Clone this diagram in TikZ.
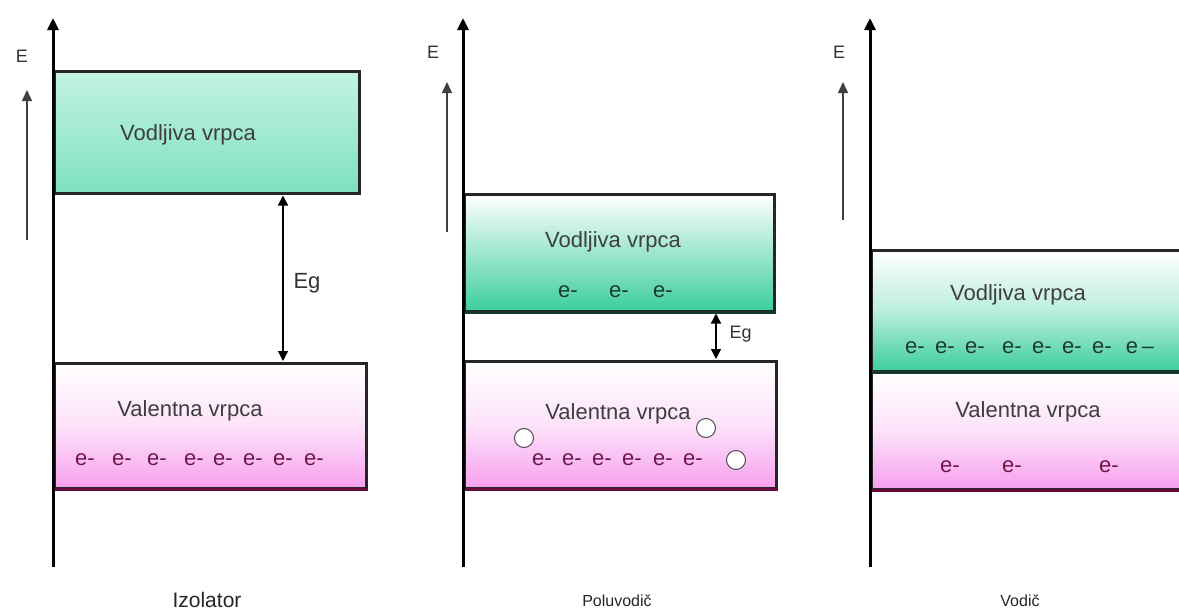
\documentclass[tikz,border=0pt]{standalone}
\usepackage{fontspec}
\setmainfont{Liberation Sans}
\usepackage{xcolor}
\usetikzlibrary{positioning,calc,arrows.meta}

\definecolor{cbtopone}{RGB}{196,244,226}
\definecolor{cbbotone}{RGB}{126,224,188}
\definecolor{cbgreen}{RGB}{60,206,156}
\definecolor{vbpink}{RGB}{247,160,238}
\definecolor{labelgray}{RGB}{62,62,62}
\definecolor{egreen}{RGB}{28,58,48}
\definecolor{epurple}{RGB}{112,22,72}
\definecolor{cbline}{RGB}{22,58,42}
\definecolor{vbline}{RGB}{100,12,62}

\tikzset{
  axis/.style={line width=3pt, -{Triangle[length=12pt,width=11pt]}},
  hint/.style={line width=1.4pt, black!75, -{Triangle[length=11pt,width=10pt]}},
  gap/.style={line width=1.4pt, {Triangle[length=10pt,width=10pt]}-{Triangle[length=10pt,width=10pt]}},
  band/.style={draw=black!85, line width=2.5pt, anchor=north west, inner sep=0pt},
  cband/.style={band, top color=white, bottom color=cbgreen},
  vband/.style={band, top color=white, bottom color=vbpink, middle color=vbpink!30!white},
  bandtext/.style={text=labelgray, font=\fontsize{22}{26}\selectfont},
  elc/.style={text=egreen, font=\fontsize{22}{26}\selectfont, inner sep=0pt},
  elv/.style={text=epurple, font=\fontsize{22}{26}\selectfont, inner sep=0pt},
  hole/.style={circle, draw=black!70, line width=1pt, fill=white, minimum width=17pt, minimum height=19pt, inner sep=0pt},
  elabel/.style={text=black!80, font=\fontsize{18}{21}\selectfont},
  caption/.style={text=black!85, font=\fontsize{16}{20}\selectfont},
}

\begin{document}
\begin{tikzpicture}[x=1pt,y=-1pt]
    \useasboundingbox[fill=white] (0,0) rectangle (1179,613);

    % Izolator
    \node[vband, minimum width=312pt, minimum height=125pt] (vb1) at (53,362) {};
    \node[band, top color=cbtopone, bottom color=cbbotone, minimum width=305pt, minimum height=122pt] (cb1) at (53,70) {};
    \draw[vbline, line width=2.5pt] (vb1.south west) -- (vb1.south east);
    \coordinate (o1) at (53,567);
    \coordinate (t1) at (53,18);
    \draw[axis] (o1) -- (t1);
    \coordinate (h1) at (27,240);
    \coordinate (k1) at (27,90);
    \draw[hint] (h1) -- (k1);
    \node[elabel] (E1) at (22,56) {E};
    \draw[gap] ($(cb1.south west)+(230,1)$) -- ($(vb1.north west)+(230,-1)$);
    \node[elabel, anchor=west, font=\fontsize{22}{26}\selectfont] (g1) at (290,283) {Eg};
    \node[bandtext] (cbl1) at (188,135) {Vodljiva vrpca};
    \node[bandtext] (vbl1) at (190,411) {Valentna vrpca};
    \foreach \x [count=\i] in {85,122,157,194,223,253,283,314}
        \node[elv] (ev1-\i) at (\x,460) {e-};
    \node[caption, font=\fontsize{21}{24}\selectfont, inner sep=0pt] (cap1) at (207,600) {Izolator};

    % Poluvodic
    \node[vband, minimum width=312pt, minimum height=127pt] (vb2) at (463,360) {};
    \node[cband, minimum width=310pt, minimum height=117pt] (cb2) at (463,193) {};
    \draw[cbline, line width=2.5pt] (cb2.south west) -- (cb2.south east);
    \draw[vbline, line width=2.5pt] (vb2.south west) -- (vb2.south east);
    \coordinate (o2) at (463,567);
    \coordinate (t2) at (463,18);
    \draw[axis] (o2) -- (t2);
    \coordinate (h2) at (447,232);
    \coordinate (k2) at (447,82);
    \draw[hint] (h2) -- (k2);
    \node[elabel] (E2) at (433,52) {E};
    \draw[gap] ($(cb2.south west)+(253,1)$) -- ($(vb2.north west)+(253,-1)$);
    \node[elabel, anchor=west] (g2) at (726,334) {Eg};
    \node[bandtext] (cbl2) at (613,242) {Vodljiva vrpca};
    \node[bandtext] (vbl2) at (618,414) {Valentna vrpca};
    \foreach \x [count=\i] in {568,619,663}
        \node[elc] (ec2-\i) at (\x,292) {e-};
    \foreach \x [count=\i] in {542,572,602,632,663,693}
        \node[elv] (ev2-\i) at (\x,460) {e-};
    \node[hole] (p1) at (524,438) {};
    \node[hole] (p2) at (706,428) {};
    \node[hole] (p3) at (736,460) {};
    \node[caption] (cap2) at (617,601) {Poluvodič};

    % Vodic
    \node[vband, minimum width=330pt, minimum height=118pt] (vb3) at (870,370) {};
    \node[cband, middle color=cbgreen!35!white, minimum width=330pt, minimum height=121pt] (cb3) at (870,249) {};
    \draw[cbline, line width=2.5pt] (cb3.south west) -- (cb3.south east);
    \draw[vbline, line width=2.5pt] (vb3.south west) -- (vb3.south east);
    \coordinate (o3) at (870,567);
    \coordinate (t3) at (870,18);
    \draw[axis] (o3) -- (t3);
    \coordinate (h3) at (843,220);
    \coordinate (k3) at (843,82);
    \draw[hint] (h3) -- (k3);
    \node[elabel] (E3) at (839,52) {E};
    \node[bandtext] (cbl3) at (1018,295) {Vodljiva vrpca};
    \node[bandtext] (vbl3) at (1028,412) {Valentna vrpca};
    \foreach \x [count=\i] in {915,945,975,1012,1042,1072,1102}
        \node[elc] (ec3-\i) at (\x,348) {e-};
    \node[elc] (ec3-8) at (1140,348) {e\,--};
    \foreach \x [count=\i] in {950,1012,1109}
        \node[elv] (ev3-\i) at (\x,467) {e-};
    \node[caption] (cap3) at (1020,601) {Vodič};
\end{tikzpicture}
\end{document}
